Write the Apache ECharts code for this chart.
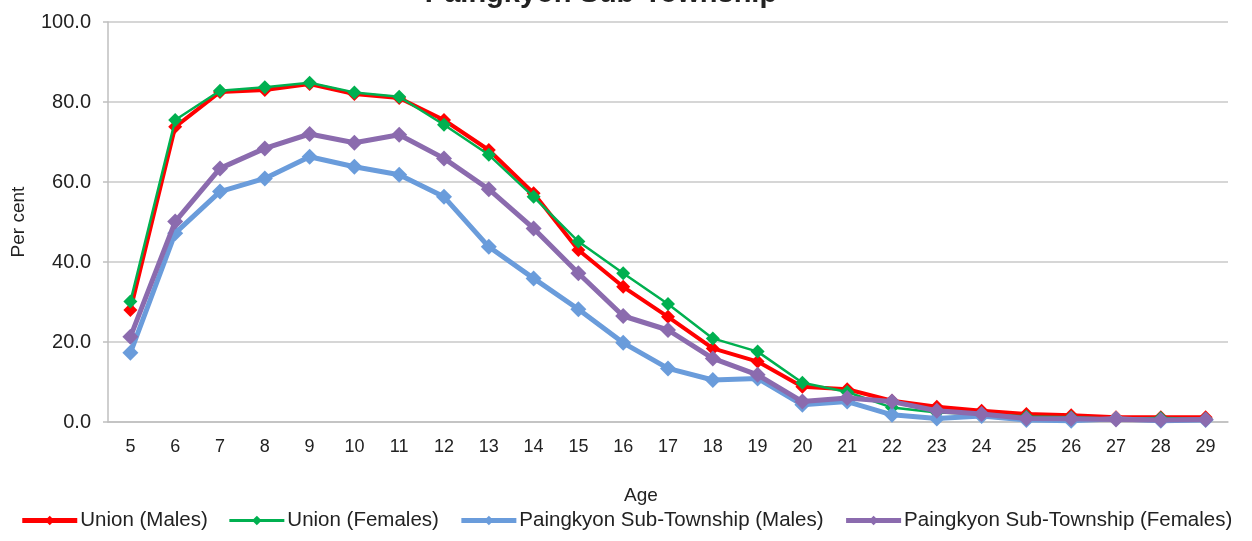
<!DOCTYPE html>
<html>
<head>
<meta charset="utf-8">
<script src="https://cdn.jsdelivr.net/npm/echarts@6/dist/echarts.min.js"></script>
<style>
  html, body { margin: 0; padding: 0; background: #fff; }
  #chart { width: 1252px; height: 541px; }
</style>
</head>
<body>
<div id="chart"></div>
<script>
// School attendance rate by single year of age, 5 to 29
const ages = ['5','6','7','8','9','10','11','12','13','14','15','16','17','18','19','20','21','22','23','24','25','26','27','28','29'];

const unionMales = [28.0, 73.8, 82.5, 83.0, 84.5, 82.0, 81.0, 75.5, 68.0, 57.2, 43.0, 33.8, 26.3, 18.4, 15.1, 8.8, 8.2, 5.3, 3.8, 2.8, 2.0, 1.7, 1.2, 1.2, 1.2];
const unionFemales = [30.1, 75.5, 82.8, 83.7, 84.8, 82.4, 81.3, 74.3, 66.8, 56.3, 45.1, 37.2, 29.5, 20.9, 17.6, 9.8, 7.5, 3.6, 2.4, 2.0, 1.4, 1.2, 0.8, 1.0, 0.8];
const paingMales = [17.3, 47.2, 57.6, 60.9, 66.3, 63.8, 61.8, 56.3, 43.8, 35.9, 28.2, 19.8, 13.4, 10.5, 10.9, 4.3, 5.1, 1.8, 0.9, 1.5, 0.5, 0.3, 0.8, 0.3, 0.5];
const paingFemales = [21.3, 50.1, 63.4, 68.4, 72.0, 69.8, 71.8, 65.9, 58.2, 48.4, 37.2, 26.5, 23.0, 15.9, 11.8, 5.1, 6.0, 5.1, 2.8, 2.0, 0.9, 0.8, 0.6, 0.5, 0.6];

const seriesNames = ['Union (Males)', 'Union (Females)', 'Paingkyon Sub-Township (Males)', 'Paingkyon Sub-Township (Females)'];
const seriesColors = ['#FF0000', '#00B050', '#6A9CDB', '#8B6BAE'];
const legendLineWidths = [5, 3, 5, 5];

const font = '"Liberation Sans", Arial, sans-serif';

function lineSeries(i, data, width, markSize) {
  return {
    name: seriesNames[i],
    type: 'line',
    data: data,
    color: seriesColors[i],
    symbol: 'diamond',
    symbolSize: markSize,
    showAllSymbol: true,
    lineStyle: { width: width, color: seriesColors[i] },
    itemStyle: { color: seriesColors[i] },
    emphasis: { disabled: true },
    z: 2 + i
  };
}

const chart = echarts.init(document.getElementById('chart'), null, { renderer: 'canvas' });
chart.setOption({
  animation: false,
  backgroundColor: '#ffffff',
  title: {
    text: 'Paingkyon Sub-Township',
    left: 596,
    textAlign: 'center',
    top: -26,
    textStyle: { fontFamily: font, fontSize: 29, fontWeight: 'bold', color: '#222' }
  },
  grid: { left: 108, right: 24, top: 22, bottom: 119, containLabel: false },
  legend: {
    bottom: 5,
    left: 'center',
    itemWidth: 55,
    itemHeight: 12,
    itemGap: 20,
    textStyle: { fontFamily: font, fontSize: 20.5, color: '#222', padding: [0, 0, 0, -2] },
    data: seriesNames.map((n, i) => ({
      name: n,
      lineStyle: { width: legendLineWidths[i], color: seriesColors[i] }
    }))
  },
  xAxis: {
    type: 'category',
    data: ages,
    boundaryGap: true,
    name: 'Age',
    nameLocation: 'middle',
    nameGap: 64,
    nameTextStyle: { fontFamily: font, fontSize: 19, color: '#222', padding: [0, 54, 0, 0] },
    axisLine: { lineStyle: { color: '#BFBFBF', width: 1.5 } },
    axisTick: { show: false },
    axisLabel: { fontFamily: font, fontSize: 18, color: '#222', margin: 16 },
    splitLine: { show: false }
  },
  yAxis: {
    type: 'value',
    min: 0,
    max: 100,
    interval: 20,
    name: 'Per cent',
    nameLocation: 'middle',
    nameGap: 80,
    nameRotate: 90,
    nameTextStyle: { fontFamily: font, fontSize: 19, color: '#222' },
    axisLine: { show: true, lineStyle: { color: '#BFBFBF', width: 1.5 } },
    axisTick: { show: true, length: 5, lineStyle: { color: '#BFBFBF', width: 1.5 } },
    axisLabel: {
      fontFamily: font, fontSize: 20, color: '#222', margin: 17,
      formatter: v => v.toFixed(1)
    },
    splitLine: { lineStyle: { color: '#C8C8C8', width: 1.5 } }
  },
  series: [
    lineSeries(0, unionMales, 4, 14),
    lineSeries(1, unionFemales, 2.5, 14),
    lineSeries(2, paingMales, 5, 16),
    lineSeries(3, paingFemales, 5, 16)
  ]
});
</script>
</body>
</html>
